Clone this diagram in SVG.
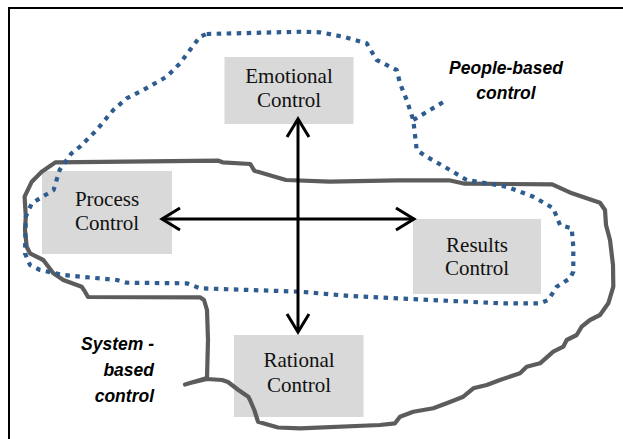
<svg xmlns="http://www.w3.org/2000/svg" width="623" height="439" viewBox="0 0 623 439">
  <defs>
    <style>
      .box { fill: #d9d9d9; }
      .lbl { font-family: "Liberation Serif", "Times New Roman", serif; font-size: 21px; fill: #111; text-anchor: middle; }
      .tag { font-family: "Liberation Sans", Arial, sans-serif; font-size: 17.5px; font-weight: bold; font-style: italic; fill: #000; }
      .system { fill: none; stroke: #5c5c5c; stroke-width: 4.2; stroke-linejoin: round; stroke-linecap: round; }
      .people { fill: none; stroke: #2f5c8e; stroke-width: 4.2; stroke-dasharray: 4.5 5.5; stroke-linejoin: round; }
      .axis { fill: none; stroke: #000; stroke-width: 3; marker-start: url(#chev); marker-end: url(#chev); }
    </style>
    <marker id="chev" markerUnits="userSpaceOnUse" markerWidth="26" markerHeight="28" refX="21" refY="13" orient="auto-start-reverse" overflow="visible">
      <path d="M3,2 L21,13 L3,24" fill="none" stroke="#000" stroke-width="3"/>
    </marker>
  </defs>

  <rect x="0" y="0" width="623" height="439" fill="#fff"/>
  <!-- frame, running off the right and bottom edges -->
  <rect x="9" y="8" width="640" height="460" fill="#fff" stroke="#000" stroke-width="2"/>

  <!-- control type boxes -->
  <g id="emotional">
    <rect class="box" x="224.5" y="57" width="129" height="67"/>
  </g>
  <g id="process">
    <rect class="box" x="42" y="171" width="130" height="83"/>
  </g>
  <g id="results">
    <rect class="box" x="413" y="219" width="128" height="75"/>
  </g>
  <g id="rational">
    <rect class="box" x="234" y="335" width="129.5" height="82"/>
  </g>

  <!-- region outlines -->
  <g id="system-based">
    <path class="system" d="M55.6,162.3 L218.5,160.7 L222.5,162.3 L250.3,164 L254.3,170.7 L286,180 L329.8,181.7 L397.3,180.3 L449,180.3 L464.8,183.7 L552.2,184.3 L572,193.3 L600,202.7 L605,210 L606,225 L610,240 L613,265 L613.3,286.7 L608.3,303.3 L600,315 L590,320 L581.7,326.7 L576.7,335 L566.7,340 L563.3,346.7 L553.3,351.7 L540,363.3 L526.7,366.7 L520,373.3 L500,380 L486.7,385 L473.3,388.3 L463.3,396.7 L446.7,403.3 L433.3,408.3 L413.3,411.7 L400,416.7 L395,423.3 L380,425 L300,428.3 L278,427.5 L258,421.7 L254.3,410 L250,400 L248.3,396.7 L238.4,390 L228,382 L222,380 L207,379 L190,383 L185,384.5 L190,383 L207,378 L208,340 L207,310 L204,300 L200,297.3 L88,297 L85,291.7 L81.7,286.7 L63.3,280 L53.3,273.3 L43.3,260 L30,253.3 L26.7,246.7 L25,230 L25.8,216.7 L24.6,196.7 L31.8,181.7 L41.7,171.7 Z"/>
  </g>
  <g id="people-based">
    <path class="people" d="M206.7,34 L303,31.7 L320,32.3 L343,36.7 L366.7,43.3 L376.7,60 L396.7,70 L400,83.3 L406.7,100 L413.3,120 L416.7,150 L426.7,156.7 L450,170 L466.7,180 L506.7,186.7 L533.3,196.7 L553.3,208.3 L560,225 L571.7,228.3 L573.3,246.7 L573.3,271.7 L570,278.3 L556.7,286.7 L548.3,300 L540,303.3 L500,303.3 L350,296 L300,291.7 L200,288.3 L186.7,283.3 L126.7,282.7 L116.7,280 L63.3,275 L40,270 L30,265 L25,253.3 L25.8,216.7 L31.8,203.3 L53.6,190 L59.6,170 L71.5,153.3 L80,146.7 L96.7,130 L113.3,110 L126.7,98.3 L143.3,90 L166.7,76.7 L180,63.3 L200,36.7 Z"/>
    <path class="people" d="M413.3,120 L446.7,100"/>
  </g>

  <!-- axes -->
  <g id="connectors">
    <path class="axis" d="M298,332 L298,119"/>
    <path class="axis" d="M162,219 L414,219"/>
  </g>

  <!-- labels -->
  <g id="labels">
    <text class="lbl" x="289" y="83">Emotional</text>
    <text class="lbl" x="289" y="107">Control</text>
    <text class="lbl" x="107" y="206">Process</text>
    <text class="lbl" x="107" y="230">Control</text>
    <text class="lbl" x="477" y="252">Results</text>
    <text class="lbl" x="477" y="275">Control</text>
    <text class="lbl" x="299" y="367">Rational</text>
    <text class="lbl" x="299" y="392">Control</text>
    <text class="tag" x="506" y="74" text-anchor="middle">People-based</text>
    <text class="tag" x="506" y="99" text-anchor="middle">control</text>
    <text class="tag" x="154" y="350" text-anchor="end">System -</text>
    <text class="tag" x="154" y="376" text-anchor="end">based</text>
    <text class="tag" x="154" y="402" text-anchor="end">control</text>
  </g>
</svg>
